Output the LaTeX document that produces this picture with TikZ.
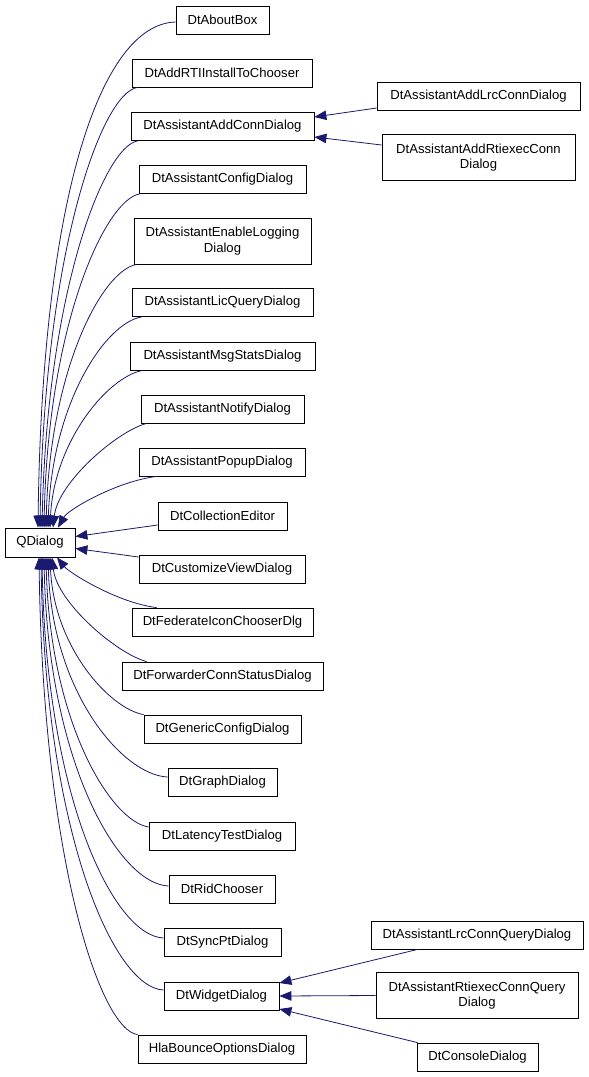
\documentclass[tikz,border=0pt]{standalone}
\usepackage{fontspec}
\setmainfont{Liberation Sans}
\usetikzlibrary{arrows.meta}
\definecolor{edgeblue}{HTML}{191970}
\begin{document}
\begin{tikzpicture}[x=1pt,y=-1pt,
  box/.style={draw=black,line width=0.8pt,fill=white,inner sep=0pt,minimum height=28pt,align=center,font=\fontsize{13.1}{15.5}\selectfont},
  tall/.style={minimum height=46pt},
  edge/.style={draw=edgeblue,line width=0.8pt,-{Triangle[length=12pt,width=9.5pt]}}]
\fill[white] (0,0) rectangle (589,1077);
% base class
\node[box,minimum width=70pt,minimum height=29pt] (qd) at (40,542.5) {QDialog};
% left column
\node[box,minimum width=93pt]  (a1)  at (222.5,20)   {DtAboutBox};
\node[box,minimum width=180pt] (a2)  at (222,73)     {DtAddRTIInstallToChooser};
\node[box,minimum width=183pt] (a3)  at (222.5,126.5) {DtAssistantAddConnDialog};
\node[box,minimum width=167pt] (a4)  at (222.5,179.5) {DtAssistantConfigDialog};
\node[box,tall,minimum width=177pt] (a5) at (222.5,241) {DtAssistantEnableLogging\\Dialog};
\node[box,minimum width=181pt] (a6)  at (222.5,302.5) {DtAssistantLicQueryDialog};
\node[box,minimum width=185pt] (a7)  at (222.5,356)  {DtAssistantMsgStatsDialog};
\node[box,minimum width=163pt] (a8)  at (222.5,409)  {DtAssistantNotifyDialog};
\node[box,minimum width=166pt] (a9)  at (222,462)    {DtAssistantPopupDialog};
\node[box,minimum width=129pt] (a10) at (222.5,516)  {DtCollectionEditor};
\node[box,minimum width=166pt] (a11) at (222,569)    {DtCustomizeViewDialog};
\node[box,minimum width=181pt] (a12) at (222.5,622)  {DtFederateIconChooserDlg};
\node[box,minimum width=201pt] (a13) at (222.5,676)  {DtForwarderConnStatusDialog};
\node[box,minimum width=157pt] (a14) at (222.5,729)  {DtGenericConfigDialog};
\node[box,minimum width=109pt] (a15) at (222.5,782)  {DtGraphDialog};
\node[box,minimum width=146pt] (a16) at (222,836)    {DtLatencyTestDialog};
\node[box,minimum width=106pt] (a17) at (222,889)    {DtRidChooser};
\node[box,minimum width=117pt] (a18) at (222.5,942)  {DtSyncPtDialog};
\node[box,minimum width=115pt] (a19) at (221.5,996)  {DtWidgetDialog};
\node[box,minimum width=168pt] (a20) at (222,1049)   {HlaBounceOptionsDialog};
% right column
\node[box,minimum width=203pt] (b1) at (478.5,96.5)  {DtAssistantAddLrcConnDialog};
\node[box,tall,minimum width=193pt] (b2) at (478.5,157.5) {DtAssistantAddRtiexecConn\\Dialog};
\node[box,minimum width=212pt] (c1) at (477,935)     {DtAssistantLrcConnQueryDialog};
\node[box,tall,minimum width=202pt] (c2) at (477,995.5) {DtAssistantRtiexecConnQuery\\Dialog};
\node[box,minimum width=121pt] (c3) at (477.5,1057)  {DtConsoleDialog};
% edges to QDialog (upper)
\draw[edge] ([yshift=-2pt]a1.west) .. controls +(-75,2) and +(4,-330) .. ([xshift=-2pt]qd.north);
\draw[edge] ([xshift=6pt]a2.south west) .. controls +(-36,5) and +(4,-275) .. (qd.north);
\draw[edge] ([xshift=7pt]a3.south west) .. controls +(-34,6) and +(5,-235) .. ([xshift=2pt]qd.north);
\draw[edge] ([xshift=1pt]a4.south west) .. controls +(-34,6) and +(4,-205) .. ([xshift=4pt]qd.north);
\draw[edge] ([xshift=3pt]a5.south west) .. controls +(-34,6) and +(4,-160) .. ([xshift=6pt]qd.north);
\draw[edge] ([xshift=10pt]a6.south west) .. controls +(-36,6) and +(4,-125) .. ([xshift=8pt]qd.north);
\draw[edge] ([xshift=13pt]a7.south west) .. controls +(-36,7) and +(4,-85) .. ([xshift=10pt]qd.north);
\draw[edge] ([xshift=6pt]a8.south west) .. controls +(-30,8) and +(5,-45) .. ([xshift=13pt]qd.north);
\draw[edge] ([xshift=18pt]a9.south west) .. controls +(-40,5) and +(10,-18) .. ([xshift=18pt]qd.north);
% middle
\draw[edge] ([yshift=-9pt]a10.west) -- ([yshift=6pt]qd.east);
\draw[edge] ([yshift=12pt]a11.west) -- ([yshift=-6pt]qd.east);
% edges to QDialog (lower)
\draw[edge] ([xshift=25pt]a12.north west) .. controls +(-40,-5) and +(12,15) .. ([xshift=17pt]qd.south);
\draw[edge] ([xshift=25pt]a13.north west) .. controls +(-30,-8) and +(5,45) .. ([xshift=12pt]qd.south);
\draw[edge] (a14.north west) .. controls +(-34,-6) and +(4,90) .. ([xshift=10pt]qd.south);
\draw[edge] ([yshift=5pt]a15.west) .. controls +(-45,-2) and +(4,135) .. ([xshift=8pt]qd.south);
\draw[edge] ([yshift=9pt]a16.west) .. controls +(-38,-6) and +(4,165) .. ([xshift=6pt]qd.south);
\draw[edge] ([yshift=3pt]a17.west) .. controls +(-50,-2) and +(4,205) .. ([xshift=4pt]qd.south);
\draw[edge] ([yshift=4pt]a18.west) .. controls +(-50,-2) and +(4,240) .. ([xshift=2pt]qd.south);
\draw[edge] ([yshift=6pt]a19.west) .. controls +(-50,-2) and +(4,275) .. ([xshift=1pt]qd.south);
\draw[edge] (a20.north west) .. controls +(-38,-5) and +(4,300) .. ([xshift=-1pt]qd.south);
% right edges
\draw[edge] ([yshift=-11.5pt]b1.west) -- ([yshift=9.5pt]a3.east);
\draw[edge] ([yshift=12.5pt]b2.west) -- ([yshift=-10.5pt]a3.east);
\draw[edge] ([xshift=47pt]c1.south west) -- ([yshift=13pt]a19.east);
\draw[edge] (c2.west) -- (a19.east);
\draw[edge] ([xshift=1pt]c3.north west) -- ([yshift=-13pt]a19.east);
\end{tikzpicture}
\end{document}
